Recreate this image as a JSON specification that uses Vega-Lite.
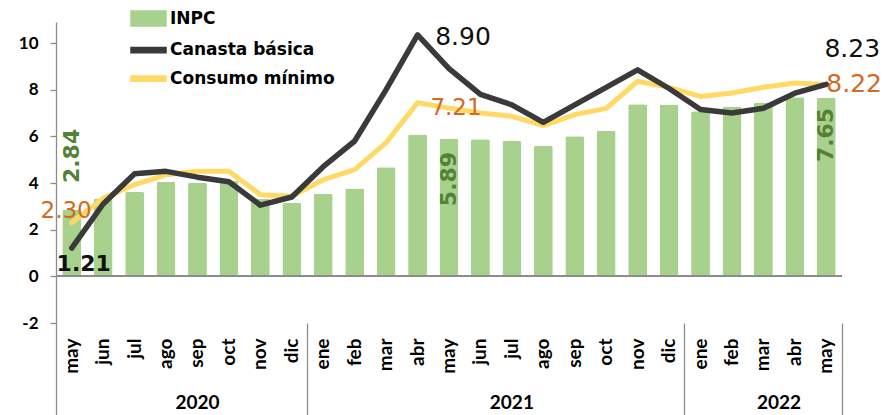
{
  "$schema": "https://vega.github.io/schema/vega-lite/v6.json",
  "width": 786,
  "height": 301,
  "autosize": {"type": "none"},
  "padding": {"left": 56, "top": 22, "right": 51, "bottom": 92},
  "background": "white",
  "config": {
    "view": {"stroke": null},
    "axisY": {
      "title": null, "grid": false, "values": [-2, 0, 2, 4, 6, 8, 10],
      "labelExpr": "datum.value < 0 ? '-' + abs(datum.value) : '' + datum.value",
      "domain": true, "domainColor": "#8c8c8c", "domainWidth": 1.3,
      "ticks": true, "tickSize": 6, "tickColor": "#8c8c8c", "tickWidth": 1.3,
      "labelFont": "Lato", "labelFontSize": 17, "labelFontWeight": "bold", "labelColor": "black",
      "labelPadding": 12
    }
  },
  "data": {
    "values": [
      {"key": "2020-may", "inpc": 2.84, "canasta": 1.21, "consumo": 2.30},
      {"key": "2020-jun", "inpc": 3.33, "canasta": 3.10, "consumo": 3.35},
      {"key": "2020-jul", "inpc": 3.62, "canasta": 4.40, "consumo": 3.93},
      {"key": "2020-ago", "inpc": 4.05, "canasta": 4.50, "consumo": 4.35},
      {"key": "2020-sep", "inpc": 4.01, "canasta": 4.25, "consumo": 4.50},
      {"key": "2020-oct", "inpc": 4.09, "canasta": 4.05, "consumo": 4.50},
      {"key": "2020-nov", "inpc": 3.33, "canasta": 3.05, "consumo": 3.50},
      {"key": "2020-dic", "inpc": 3.15, "canasta": 3.40, "consumo": 3.43},
      {"key": "2021-ene", "inpc": 3.54, "canasta": 4.70, "consumo": 4.14},
      {"key": "2021-feb", "inpc": 3.76, "canasta": 5.80, "consumo": 4.57},
      {"key": "2021-mar", "inpc": 4.67, "canasta": 8.00, "consumo": 5.73},
      {"key": "2021-abr", "inpc": 6.08, "canasta": 10.35, "consumo": 7.44},
      {"key": "2021-may", "inpc": 5.89, "canasta": 8.90, "consumo": 7.21},
      {"key": "2021-jun", "inpc": 5.88, "canasta": 7.80, "consumo": 7.00},
      {"key": "2021-jul", "inpc": 5.81, "canasta": 7.35, "consumo": 6.86},
      {"key": "2021-ago", "inpc": 5.59, "canasta": 6.60, "consumo": 6.46},
      {"key": "2021-sep", "inpc": 6.00, "canasta": 7.35, "consumo": 6.93},
      {"key": "2021-oct", "inpc": 6.24, "canasta": 8.10, "consumo": 7.20},
      {"key": "2021-nov", "inpc": 7.37, "canasta": 8.85, "consumo": 8.36},
      {"key": "2021-dic", "inpc": 7.36, "canasta": 8.05, "consumo": 8.10},
      {"key": "2022-ene", "inpc": 7.07, "canasta": 7.15, "consumo": 7.71},
      {"key": "2022-feb", "inpc": 7.28, "canasta": 7.00, "consumo": 7.86},
      {"key": "2022-mar", "inpc": 7.45, "canasta": 7.20, "consumo": 8.10},
      {"key": "2022-abr", "inpc": 7.68, "canasta": 7.85, "consumo": 8.29},
      {"key": "2022-may", "inpc": 7.65, "canasta": 8.23, "consumo": 8.22}
    ]
  },
  "layer": [
    {
      "mark": {"type": "bar", "width": {"band": 0.6}, "cornerRadiusEnd": 2},
      "encoding": {
        "x": {
          "field": "key", "type": "nominal", "sort": null,
          "scale": {"paddingInner": 0, "paddingOuter": 0},
          "axis": {
            "orient": "bottom", "title": null, "grid": false,
            "labelExpr": "split(datum.value, '-')[1]",
            "labelAngle": -90, "labelPadding": 15,
            "ticks": false, "domain": false,
            "labelFont": "Lato", "labelFontSize": 19, "labelFontWeight": "bold", "labelColor": "black",
            "labelOverlap": false
          }
        },
        "y": {
          "field": "inpc", "type": "quantitative", "title": null,
          "scale": {"domain": [-2, 10.9], "nice": false, "zero": false}
        },
        "color": {
          "datum": "INPC", "type": "nominal",
          "scale": {"domain": ["INPC", "Canasta básica", "Consumo mínimo"], "range": ["#A9D18E", "#3a3a3a", "#FFD966"]},
          "legend": {
            "title": null, "orient": "none", "legendX": 74, "legendY": -22,
            "symbolType": "M-1,-0.43H1V0.43H-1Z", "symbolSize": 1225,
            "labelFont": "DejaVu Sans", "labelFontSize": 17, "labelColor": "black",
            "labelOffset": 3, "rowPadding": 1.5, "labelLimit": 400,
            "encode": {
              "symbols": {"update": {
                "shape": {"signal": "datum.value == 'INPC' ? 'M-1,-0.43H1V0.43H-1Z' : 'M-1,-0.15H1V0.15H-1Z'"},
                "fill": {"scale": "color", "field": "value"},
                "stroke": {"value": "transparent"},
                "opacity": {"value": 1}
              }},
              "labels": {"update": {
                "fontWeight": {"value": "bold"}
              }}
            }
          }
        }
      }
    },
    {
      "mark": {"type": "rule", "color": "#8c8c8c", "strokeWidth": 1.5},
      "encoding": {"y": {"datum": 0, "type": "quantitative", "title": null}}
    },
    {
      "mark": {"type": "line", "strokeWidth": 5, "strokeCap": "round", "strokeJoin": "round"},
      "encoding": {
        "x": {
          "field": "key", "type": "nominal", "sort": null,
          "axis": {
            "orient": "bottom", "title": null, "grid": false, "bandPosition": 1,
            "domain": false, "labels": false,
            "ticks": true, "tickSize": 93, "tickColor": "#8c8c8c", "tickWidth": 1.3,
            "tickOpacity": {"condition": {"test": "datum.value == '2022-may'", "value": 1}, "value": 0}
          }
        },
        "y": {"field": "consumo", "type": "quantitative", "title": null},
        "color": {"datum": "Consumo mínimo", "type": "nominal"}
      }
    },
    {
      "mark": {"type": "line", "strokeWidth": 5.5, "strokeCap": "round", "strokeJoin": "round"},
      "encoding": {
        "x": {
          "field": "key", "type": "nominal", "sort": null,
          "axis": {
            "orient": "bottom", "title": null, "grid": false, "bandPosition": 0,
            "domain": false,
            "ticks": true, "tickSize": 93, "tickColor": "#8c8c8c", "tickWidth": 1.3,
            "tickOpacity": {"condition": {"test": "indexof(['2020-may','2021-ene','2022-ene'], datum.value) >= 0", "value": 1}, "value": 0},
            "labelExpr": "datum.value == '2020-sep' ? '2020' : datum.value == '2021-jul' ? '2021' : datum.value == '2022-mar' ? '2022' : ''",
            "labelOffset": {"condition": {"test": "datum.value == '2022-mar'", "value": 15.7}, "value": 0},
            "labelAngle": 0, "labelAlign": "center", "labelBaseline": "top", "labelPadding": -23,
            "labelFont": "Lato", "labelFontSize": 19, "labelFontWeight": "bold", "labelColor": "black",
            "labelOverlap": false
          }
        },
        "y": {"field": "canasta", "type": "quantitative", "title": null},
        "color": {"datum": "Canasta básica", "type": "nominal"}
      }
    },
    {
      "transform": [{"filter": "datum.key == '2020-may'"}],
      "mark": {"type": "text", "angle": 270, "align": "left", "baseline": "middle", "dx": 27, "font": "DejaVu Sans", "fontSize": 22, "fontWeight": "bold", "color": "#548235"},
      "encoding": {
        "x": {"field": "key", "type": "nominal", "sort": null, "axis": null},
        "y": {"field": "inpc", "type": "quantitative", "title": null},
        "text": {"field": "inpc", "type": "quantitative", "format": ".2f"}
      }
    },
    {
      "transform": [{"filter": "datum.key == '2021-may'"}],
      "mark": {"type": "text", "angle": 270, "align": "right", "baseline": "middle", "dx": -13, "font": "DejaVu Sans", "fontSize": 22, "fontWeight": "bold", "color": "#548235"},
      "encoding": {
        "x": {"field": "key", "type": "nominal", "sort": null, "axis": null},
        "y": {"field": "inpc", "type": "quantitative", "title": null},
        "text": {"field": "inpc", "type": "quantitative", "format": ".2f"}
      }
    },
    {
      "transform": [{"filter": "datum.key == '2022-may'"}],
      "mark": {"type": "text", "angle": 270, "align": "right", "baseline": "middle", "dx": -10, "font": "DejaVu Sans", "fontSize": 22, "fontWeight": "bold", "color": "#548235"},
      "encoding": {
        "x": {"field": "key", "type": "nominal", "sort": null, "axis": null},
        "y": {"field": "inpc", "type": "quantitative", "title": null},
        "text": {"field": "inpc", "type": "quantitative", "format": ".2f"}
      }
    },
    {
      "transform": [{"filter": "datum.key == '2020-may'"}],
      "mark": {"type": "text", "align": "center", "baseline": "middle", "dx": 12, "dy": 16, "font": "DejaVu Sans", "fontSize": 22, "fontWeight": "bold", "color": "#111111"},
      "encoding": {
        "x": {"field": "key", "type": "nominal", "sort": null, "axis": null},
        "y": {"field": "canasta", "type": "quantitative", "title": null},
        "text": {"field": "canasta", "type": "quantitative", "format": ".2f"}
      }
    },
    {
      "transform": [{"filter": "datum.key == '2020-may'"}],
      "mark": {"type": "text", "align": "right", "baseline": "middle", "dx": 20, "dy": -12, "font": "DejaVu Sans", "fontSize": 23, "color": "#D46A1F"},
      "encoding": {
        "x": {"field": "key", "type": "nominal", "sort": null, "axis": null},
        "y": {"field": "consumo", "type": "quantitative", "title": null},
        "text": {"field": "consumo", "type": "quantitative", "format": ".2f"}
      }
    },
    {
      "transform": [{"filter": "datum.key == '2021-may'"}],
      "mark": {"type": "text", "align": "center", "baseline": "middle", "dx": 14, "dy": -32, "font": "DejaVu Sans", "fontSize": 25, "color": "#111111"},
      "encoding": {
        "x": {"field": "key", "type": "nominal", "sort": null, "axis": null},
        "y": {"field": "canasta", "type": "quantitative", "title": null},
        "text": {"field": "canasta", "type": "quantitative", "format": ".2f"}
      }
    },
    {
      "transform": [{"filter": "datum.key == '2021-may'"}],
      "mark": {"type": "text", "align": "center", "baseline": "middle", "dx": 7, "dy": 0, "font": "DejaVu Sans", "fontSize": 23, "color": "#D46A1F"},
      "encoding": {
        "x": {"field": "key", "type": "nominal", "sort": null, "axis": null},
        "y": {"field": "consumo", "type": "quantitative", "title": null},
        "text": {"field": "consumo", "type": "quantitative", "format": ".2f"}
      }
    },
    {
      "transform": [{"filter": "datum.key == '2022-may'"}],
      "mark": {"type": "text", "align": "center", "baseline": "middle", "dx": 26, "dy": -35, "font": "DejaVu Sans", "fontSize": 25, "color": "#111111"},
      "encoding": {
        "x": {"field": "key", "type": "nominal", "sort": null, "axis": null},
        "y": {"field": "canasta", "type": "quantitative", "title": null},
        "text": {"field": "canasta", "type": "quantitative", "format": ".2f"}
      }
    },
    {
      "transform": [{"filter": "datum.key == '2022-may'"}],
      "mark": {"type": "text", "align": "left", "baseline": "middle", "dx": 0, "dy": -1, "font": "DejaVu Sans", "fontSize": 25, "color": "#D46A1F"},
      "encoding": {
        "x": {"field": "key", "type": "nominal", "sort": null, "axis": null},
        "y": {"field": "consumo", "type": "quantitative", "title": null},
        "text": {"field": "consumo", "type": "quantitative", "format": ".2f"}
      }
    }
  ],
  "resolve": {"axis": {"x": "independent"}}
}
